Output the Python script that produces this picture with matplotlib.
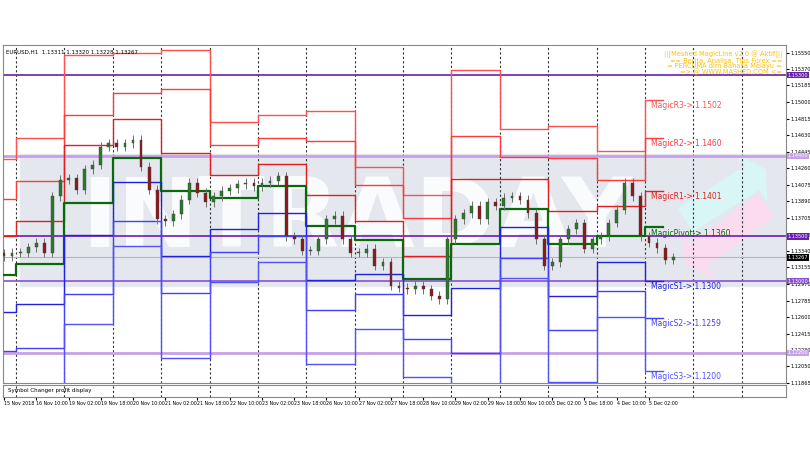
import matplotlib
matplotlib.use("Agg")
import matplotlib.pyplot as plt
from matplotlib.patches import Rectangle

# ---- data ----
closes = [1.1328,1.1332,1.1332,1.1338,1.1343,1.1332,1.1395,1.1413,1.1415,1.1402,
          1.1425,1.1430,1.1450,1.1454,1.1450,1.1454,1.1458,1.1428,1.1402,1.1369,
          1.1367,1.1375,1.1391,1.1410,1.1399,1.1388,1.1395,1.1401,1.1404,1.1408,
          1.1410,1.1406,1.1410,1.1412,1.1417,1.1350,1.1347,1.1334,1.1334,1.1347,
          1.1369,1.1373,1.1347,1.1332,1.1332,1.1336,1.1317,1.1321,1.1295,1.1293,
          1.1291,1.1295,1.1291,1.1284,1.1280,1.1347,1.1369,1.1376,1.1384,1.1369,
          1.1388,1.1384,1.1393,1.1395,1.1391,1.1376,1.1347,1.1317,1.1321,1.1347,
          1.1358,1.1365,1.1336,1.1347,1.1350,1.1365,1.1380,1.1410,1.1395,1.1350,
          1.1343,1.1337,1.1324,1.1327]
first_open = 1.1331

day_start = [0, 6, 30, 54, 78, 102, 126, 150, 174, 198, 222, 246, 270, 294, 318]
day_end_last = 327
R3 = [1.1436,1.1460,1.1552,1.1555,1.1558,1.1478,1.1486,1.1490,1.1427,1.1396,1.1536,1.1470,1.1473,1.1445,1.1502]
R2 = [1.1392,1.1412,1.1486,1.1510,1.1515,1.1452,1.1460,1.1456,1.1407,1.1371,1.1462,1.1439,1.1438,1.1413,1.1460]
R1 = [1.1351,1.1367,1.1452,1.1481,1.1443,1.1419,1.1431,1.1396,1.1367,1.1328,1.1414,1.1414,1.1378,1.1384,1.1401]
PV = [1.1307,1.1319,1.1387,1.1438,1.1401,1.1393,1.1406,1.1362,1.1346,1.1303,1.1341,1.1381,1.1342,1.1351,1.1360]
S1 = [1.1266,1.1275,1.1352,1.1411,1.1328,1.1358,1.1376,1.1301,1.1308,1.1262,1.1293,1.1360,1.1283,1.1321,1.1300]
S2 = [1.1222,1.1226,1.1286,1.1367,1.1287,1.1333,1.1351,1.1268,1.1286,1.1236,1.1220,1.1326,1.1246,1.1289,1.1259]
S3 = [1.1181,1.1182,1.1252,1.1339,1.1214,1.1299,1.1321,1.1208,1.1247,1.1193,1.1173,1.1304,1.1188,1.1260,1.1200]

hlines_p = [1.1530, 1.1440, 1.1350, 1.1300, 1.1220]
hlines_c = ['#6a1fb0', '#c8a0e8', '#6a1fb0', '#8a50d0', '#c8a0e8']
hlines_w = [1.2, 2.0, 1.2, 1.2, 2.0]
current = 1.13267

yticks = [1.15550,1.15370,1.15185,1.15000,1.14815,1.14630,1.14445,1.14260,1.14075,
          1.13890,1.13705,1.13520,1.13340,1.13155,1.12970,1.12785,1.12600,1.12415,
          1.12230,1.12050,1.11865]
date_labels = ['15 Nov 2018','16 Nov 10:00','19 Nov 02:00','19 Nov 18:00','20 Nov 10:00',
               '21 Nov 02:00','21 Nov 18:00','22 Nov 10:00','23 Nov 02:00','23 Nov 18:00',
               '26 Nov 10:00','27 Nov 02:00','27 Nov 18:00','28 Nov 10:00','29 Nov 02:00',
               '29 Nov 18:00','30 Nov 10:00','3 Dec 02:00','3 Dec 18:00','4 Dec 10:00','5 Dec 02:00']
level_names = ['MagicR3','MagicR2','MagicR1','MagicPivot','MagicS1','MagicS2','MagicS3']

# ---- figure ----
fig = plt.figure(figsize=(8.1, 4.5), dpi=100)
ax = fig.add_axes([0.0037, 0.149, 0.9667, 0.751])
sub = fig.add_axes([0.0037, 0.118, 0.9667, 0.027])
XMAX = 388
ax.set_xlim(-0.5, XMAX)
ax.set_ylim(1.11881, 1.15636)
sub.set_xlim(-0.5, XMAX)

# watermark band
ax.add_patch(Rectangle((8, 1.1295), 385, 0.0147, color='#e4e7ee', zorder=0))
ax.text(175, 1.1368, 'INTRADAY', fontsize=70, color='white', fontweight='bold',
        ha='center', va='center', zorder=0.5, alpha=0.85)
ax.annotate('', xy=(378, 1.1425), xytext=(338, 1.1368),
            arrowprops=dict(facecolor='#d8f6f6', edgecolor='none', width=20, headwidth=42), zorder=0.5)
ax.annotate('', xy=(338, 1.1318), xytext=(378, 1.1385),
            arrowprops=dict(facecolor='#fbdcef', edgecolor='none', width=20, headwidth=42), zorder=0.5)

# day separators
for d in day_start[1:]:
    for a in (ax, sub):
        a.axvline(d, color='#333333', lw=0.8, ls=(0, (2, 2)), zorder=1)
for k in range(1, 4):
    xv = day_start[-1] + 24 * k
    if xv < XMAX:
        for a in (ax, sub):
            a.axvline(xv, color='#333333', lw=0.8, ls=(0, (2, 2)), zorder=1)

for p, c, w in zip(hlines_p, hlines_c, hlines_w):
    ax.axhline(p, color=c, lw=w, zorder=2)
ax.axhline(current, color='#b0b8b8', lw=0.8, zorder=2)

# levels
xs = day_start + [day_end_last]
styles = [(R3, '#ff5050', 1.0), (R2, '#ff3a3a', 1.0), (R1, '#e02020', 1.0), (PV, '#0a6a0a', 1.6),
          (S1, '#2020e0', 1.0), (S2, '#4040ff', 1.0), (S3, '#5050ff', 1.0)]
for (vals, c, w), name in zip(styles, level_names):
    ax.step(xs, vals + [vals[-1]], where='post', color=c, lw=w, zorder=3)
    ax.text(day_start[-1] + 3, vals[-1] - 0.00012, f'{name}-> {vals[-1]:.4f}',
            fontsize=5.5, color=c, va='top', ha='left', zorder=6)

# candles
opens = [first_open] + closes[:-1]
for k, (o, c) in enumerate(zip(opens, closes)):
    xb = 4 * k
    hi, lo = max(o, c) + 0.0005, min(o, c) - 0.0005
    ax.vlines(xb, lo, hi, color='#707070', lw=0.7, zorder=4)
    col = '#2a7a2a' if c >= o else '#8b1a1a'
    ax.add_patch(Rectangle((xb - 0.7, min(o, c)), 1.4, max(abs(c - o), 0.00008),
                           facecolor=col, edgecolor='#404040', lw=0.3, zorder=5))

# axes styling
ax.yaxis.tick_right()
ax.set_yticks(yticks)
ax.set_yticklabels([f'{t:.5f}' for t in yticks], fontsize=3.6)
ax.tick_params(axis='y', length=2, pad=1)
ax.set_xticks([])
for s in ax.spines.values():
    s.set_color('#888888')
sub.set_xticks([16 * i for i in range(len(date_labels))])
sub.set_xticklabels(date_labels, fontsize=3.4, ha='left')
sub.tick_params(axis='x', length=2, pad=1)
sub.set_yticks([])
sub.text(2, 0.5, 'Symbol Changer profit display', fontsize=4, va='center', transform=sub.get_xaxis_transform())
for s in sub.spines.values():
    s.set_color('#888888')

# right-side price boxes
for p, c in zip(hlines_p, hlines_c):
    ax.text(1.002, p, f'{p:.5f}', transform=ax.get_yaxis_transform(), fontsize=3.6, color='white',
            va='center', ha='left', bbox=dict(boxstyle='square,pad=0.15', fc=c, ec='none'), zorder=10)
ax.text(1.002, current, f'{current:.5f}', transform=ax.get_yaxis_transform(), fontsize=3.6,
        color='white', va='center', ha='left', bbox=dict(boxstyle='square,pad=0.15', fc='black', ec='none'), zorder=10)

ax.text(0.004, 0.985, 'EURUSD,H1  1.13311 1.13320 1.13228 1.13267', transform=ax.transAxes,
        fontsize=4, va='top', ha='left')
ax.text(0.995, 0.985, '||[Meshed MagicLine v2.0 @ Aktif]||\n== Berita, Analisa, Tips Forex ==\n'
        '= PERCUMA dlm Bahasa Melayu =\n=> @ WWW.MASHED.COM <=', transform=ax.transAxes,
        fontsize=4.8, va='top', ha='right', color='#ffc000', linespacing=0.95, zorder=11)

fig.savefig('out.png', dpi=100)
